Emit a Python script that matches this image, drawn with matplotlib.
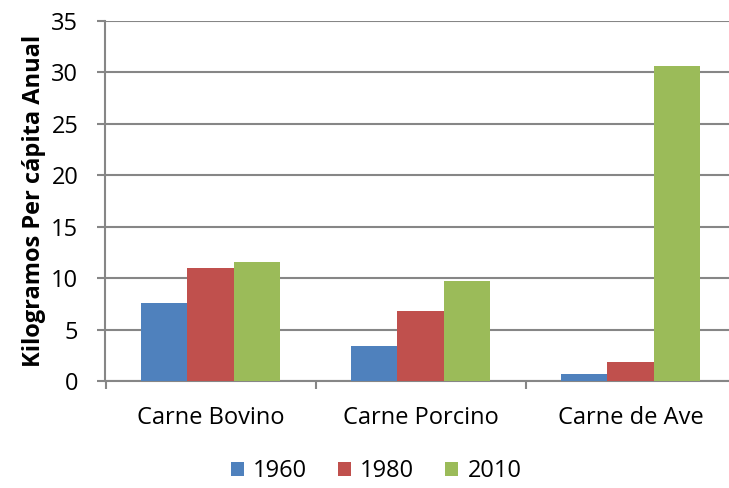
import matplotlib.pyplot as plt
import numpy as np

plt.rcParams['font.family'] = ['Open Sans', 'DejaVu Sans']

categorias = ['Carne Bovino', 'Carne Porcino', 'Carne de Ave']
anos = ['1960', '1980', '2010']
v1960 = [7.6, 3.4, 0.7]
v1980 = [11.0, 6.8, 1.8]
v2010 = [11.6, 9.7, 30.6]
cores = ['#4f81bd', '#c0504d', '#9bbb59']

fig = plt.figure(figsize=(7.29, 4.88), dpi=100)
# plot area runs slightly past the right edge, as in the original
ax = fig.add_axes([105.5 / 729, 1 - 381 / 488, 630 / 729, 360.3 / 488])

x = np.arange(len(categorias))
w = 0.222
for i, (serie, ano) in enumerate(zip([v1960, v1980, v2010], anos)):
    ax.bar(x + (i - 1) * w, serie, w, color=cores[i], label=ano, zorder=3)

ax.set_xlim(-0.5, 2.5)
ax.set_ylim(0, 35)
ax.set_yticks(range(0, 36, 5))
ax.yaxis.grid(True, color='#868686', linewidth=1.5, zorder=0)

ax.set_xticks(x)
ax.set_xticklabels(categorias, fontsize=17)
ax.set_xticks([-0.5, 0.5, 1.5, 2.5], minor=True)
ax.tick_params(axis='x', which='major', length=0, pad=18)
ax.tick_params(axis='x', which='minor', length=5.5, color='#868686', width=1.5)
ax.tick_params(axis='y', labelsize=17, length=5.5, color='#868686', width=1.5, pad=14)

for s in ['top', 'right']:
    ax.spines[s].set_visible(False)
for s in ['left', 'bottom']:
    ax.spines[s].set_color('#868686')
    ax.spines[s].set_linewidth(1.5)

ax.set_ylabel('Kilogramos Per cápita Anual', fontsize=17, fontweight='bold', labelpad=4)

fig.legend(loc='center', bbox_to_anchor=(376 / 729, 1 - 471 / 488), ncol=3, frameon=False,
           fontsize=17, handlelength=0.55, handleheight=0.55, columnspacing=1.3, handletextpad=0.4)

fig.savefig('out.png', dpi=100)
